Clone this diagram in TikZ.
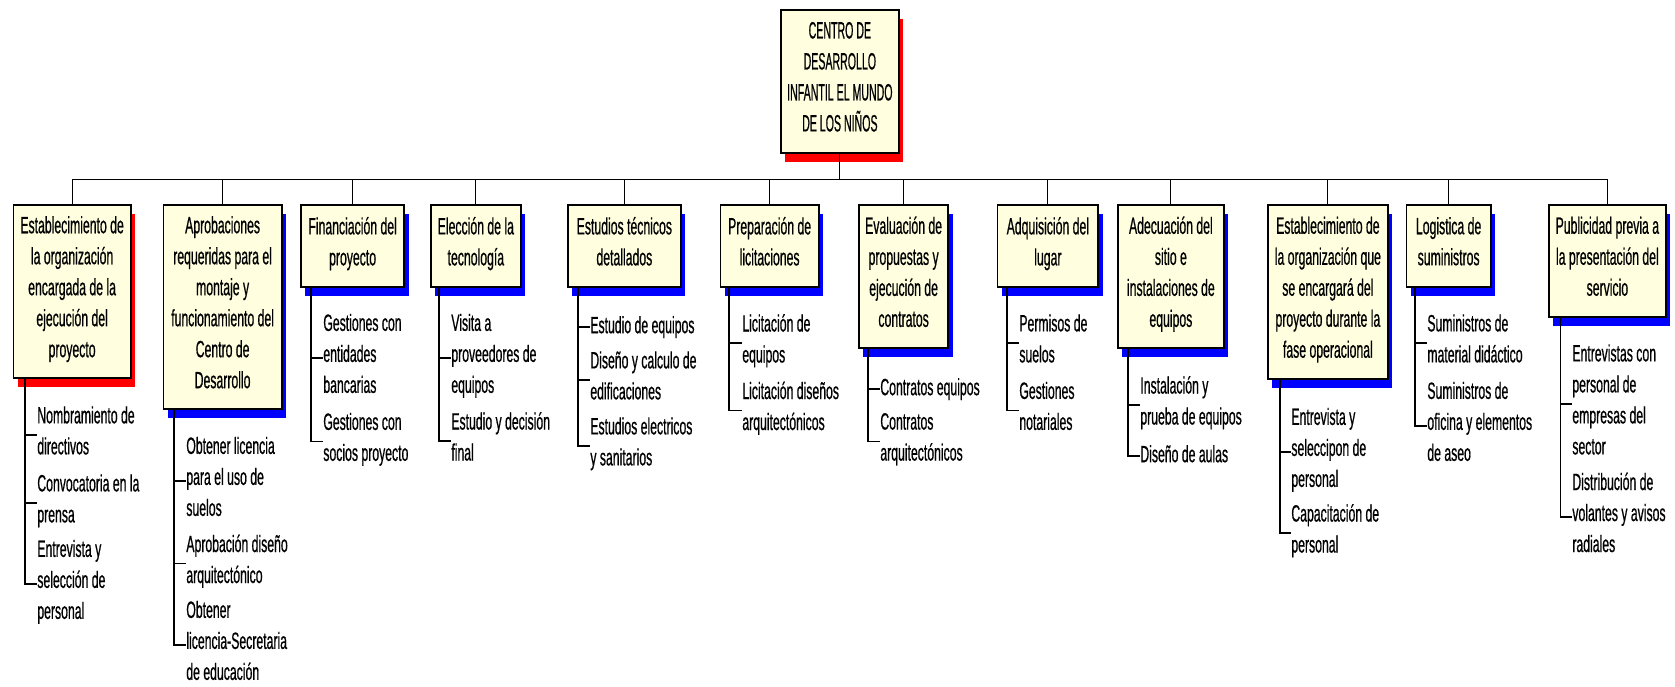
\documentclass[tikz,border=0pt]{standalone}
\usepackage{fontspec}
\setmainfont[FakeStretch=0.52,FakeBold=0.6]{Liberation Sans}
\newfontfamily\narrowfont[FakeStretch=0.45,FakeBold=0.6]{Liberation Sans}
\usetikzlibrary{shadows}
\definecolor{boxfill}{RGB}{255,255,224}
\newcommand\fs{\fontsize{13.4pt}{17.64pt}\selectfont}
\begin{document}
\begin{tikzpicture}[x=0.02cm,y=-0.02cm,
  box/.style={draw=black, line width=1pt, fill=boxfill, inner sep=0pt, align=center, font=\fs, anchor=north west, execute at begin node=\strut, execute at end node=\strut},
  bshadow/.style={general shadow={fill=blue, shadow xshift=0.09cm, shadow yshift=-0.19cm}},
  rshadow/.style={general shadow={fill=red, shadow xshift=0.09cm, shadow yshift=-0.19cm}},
  item/.style={anchor=west, inner sep=0pt, align=left, font=\fs, execute at begin node=\strut, execute at end node=\strut},
  link/.style={draw=black, line width=0.6pt}]
\useasboundingbox (0,0) rectangle (1675,686);

% root
\node[box, rshadow, font=\narrowfont\fs, minimum width=2.36cm, minimum height=2.86cm] (root) at (780,9) {CENTRO DE\\DESARROLLO\\INFANTIL EL MUNDO\\DE LOS NIÑOS};

% level 1
\node[box, rshadow, minimum width=2.35cm, minimum height=3.46cm] (b1) at (12.5,204) {Establecimiento de\\la organización\\encargada de la\\ejecución del\\proyecto};
\node[box, bshadow, minimum width=2.37cm, minimum height=4.08cm] (b2) at (162.5,204) {Aprobaciones\\requeridas para el\\montaje y\\funcionamiento del\\Centro de\\Desarrollo};
\node[box, bshadow, minimum width=2.07cm, minimum height=1.64cm] (b3) at (300,204) {Financiación del\\proyecto};
\node[box, bshadow, minimum width=1.80cm, minimum height=1.64cm] (b4) at (430,204) {Elección de la\\tecnología};
\node[box, bshadow, minimum width=2.26cm, minimum height=1.64cm] (b5) at (567,204) {Estudios técnicos\\detallados};
\node[box, bshadow, minimum width=1.97cm, minimum height=1.64cm] (b6) at (719.5,204) {Preparación de\\licitaciones};
\node[box, bshadow, minimum width=1.79cm, minimum height=2.86cm] (b7) at (858,204) {Evaluación de\\propuestas y\\ejecución de\\contratos};
\node[box, bshadow, minimum width=2.02cm, minimum height=1.64cm] (b8) at (996.5,204) {Adquisición del\\lugar};
\node[box, bshadow, minimum width=2.12cm, minimum height=2.86cm] (b9) at (1117,204) {Adecuación del\\sitio e\\instalaciones de\\equipos};
\node[box, bshadow, minimum width=2.40cm, minimum height=3.48cm] (b10) at (1267,204) {Establecimiento de\\la organización que\\se encargará del\\proyecto durante la\\fase operacional};
\node[box, bshadow, minimum width=1.69cm, minimum height=1.64cm] (b11) at (1405.5,204) {Logistica de\\suministros};
\node[box, bshadow, minimum width=2.34cm, minimum height=2.24cm] (b12) at (1548,204) {Publicidad previa a\\la presentación del\\servicio};

% bus
\foreach \b in {b1,b2,b3,b4,b5,b6,b7,b8,b9,b10,b11,b12}
  \draw[link] (root.south) -- ++(0,26) -| (\b.north);

% items
\node[item] (b1a) at (37,435) {Nombramiento de\\directivos};
\node[item] (b1b) at (37,503) {Convocatoria en la\\prensa};
\node[item] (b1c) at (37,584) {Entrevista y\\selección de\\personal};

\node[item] (b2a) at (186,481) {Obtener licencia\\para el uso de\\suelos};
\node[item] (b2b) at (186,563.5) {Aprobación diseño\\arquitectónico};
\node[item] (b2c) at (186,645) {Obtener\\licencia-Secretaria\\de educación};

\node[item] (b3a) at (323,358) {Gestiones con\\entidades\\bancarias};
\node[item] (b3b) at (323,441.5) {Gestiones con\\socios proyecto};

\node[item] (b4a) at (451,358) {Visita a\\proveedores de\\equipos};
\node[item] (b4b) at (451,441) {Estudio y decisión\\final};

\node[item] (b5a) at (590,327) {Estudio de equipos};
\node[item] (b5b) at (590,380) {Diseño y calculo de\\edificaciones};
\node[item] (b5c) at (590,446) {Estudios electricos\\y sanitarios};

\node[item] (b6a) at (742,343) {Licitación de\\equipos};
\node[item] (b6b) at (742,410.5) {Licitación diseños\\arquitectónicos};

\node[item] (b7a) at (880,389) {Contratos equipos};
\node[item] (b7b) at (880,441.5) {Contratos\\arquitectónicos};

\node[item] (b8a) at (1019,343) {Permisos de\\suelos};
\node[item] (b8b) at (1019,410.5) {Gestiones\\notariales};

\node[item] (b9a) at (1140,405) {Instalación y\\prueba de equipos};
\node[item] (b9b) at (1140,456) {Diseño de aulas};

\node[item] (b10a) at (1291,452) {Entrevista y\\seleccipon de\\personal};
\node[item] (b10b) at (1291,533) {Capacitación de\\personal};

\node[item] (b11a) at (1427,343) {Suministros de\\material didáctico};
\node[item] (b11b) at (1427,426) {Suministros de\\oficina y elementos\\de aseo};

\node[item] (b12a) at (1572,404) {Entrevistas con\\personal de\\empresas del\\sector};
\node[item] (b12b) at (1572,517) {Distribución de\\volantes y avisos\\radiales};

% item connectors
\foreach \b/\o/\l in {b1/12.5/{a,b,c}, b2/11.5/{a,b,c}, b3/11/{a,b}, b4/9/{a,b}, b5/11/{a,b,c}, b6/9.5/{a,b}, b7/10/{a,b}, b8/10.5/{a,b}, b9/11/{a,b}, b10/13/{a,b}, b11/9.5/{a,b}, b12/12/{a,b}}
  \foreach \i in \l
    \draw[link] (\b.south west) ++(\o,0) |- (\b\i.west);
\end{tikzpicture}
\end{document}
